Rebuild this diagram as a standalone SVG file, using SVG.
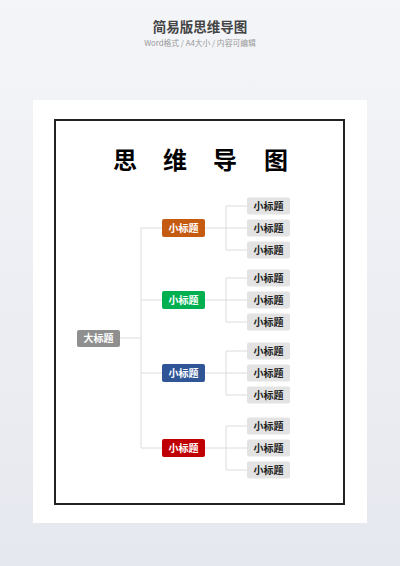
<svg xmlns="http://www.w3.org/2000/svg" width="400" height="566" viewBox="0 0 400 566">
<defs>
<linearGradient id="bg" x1="0" y1="0" x2="0" y2="1">
<stop offset="0" stop-color="#f4f5f8"/>
<stop offset="1" stop-color="#e6e8ef"/>
</linearGradient>
<style>
text{font-family:"Noto Sans CJK SC","Noto Sans",sans-serif;text-anchor:middle}
.conn line{stroke:#dcdcdc;stroke-width:1;fill:none}
.leaf rect{fill:#e3e3e3}
.leaf text{fill:#222;font-size:10px;font-weight:bold}
.mid text{fill:#fff;font-size:10px;font-weight:bold}
</style>
</defs>
<rect width="400" height="566" fill="url(#bg)"/>
<text x="200" y="32" font-size="13.5" font-weight="bold" fill="#444">简易版思维导图</text>
<text x="200" y="45.5" font-size="7.8" fill="#999">Word格式 / A4大小 / 内容可编辑</text>
<rect x="33" y="100" width="334" height="423" fill="#fff"/>
<rect x="55" y="120" width="289" height="384" fill="none" stroke="#222" stroke-width="2"/>
<g id="title" font-size="24" font-weight="bold" fill="#000">
<text x="125" y="169">思</text>
<text x="175" y="169">维</text>
<text x="225" y="169">导</text>
<text x="276" y="169">图</text>
</g>
<g class="conn" id="connectors">
<line x1="120" y1="338" x2="141" y2="338"/>
<line x1="141" y1="228" x2="141" y2="448"/>
<line x1="141" y1="228" x2="162" y2="228"/>
<line x1="141" y1="300" x2="162" y2="300"/>
<line x1="141" y1="373" x2="162" y2="373"/>
<line x1="141" y1="448" x2="162" y2="448"/>
<line x1="205" y1="228" x2="247" y2="228"/>
<line x1="226" y1="206" x2="226" y2="250"/>
<line x1="226" y1="206" x2="247" y2="206"/>
<line x1="226" y1="250" x2="247" y2="250"/>
<line x1="205" y1="300" x2="247" y2="300"/>
<line x1="226" y1="278" x2="226" y2="322"/>
<line x1="226" y1="278" x2="247" y2="278"/>
<line x1="226" y1="322" x2="247" y2="322"/>
<line x1="205" y1="373" x2="247" y2="373"/>
<line x1="226" y1="351" x2="226" y2="395"/>
<line x1="226" y1="351" x2="247" y2="351"/>
<line x1="226" y1="395" x2="247" y2="395"/>
<line x1="205" y1="448" x2="247" y2="448"/>
<line x1="226" y1="426" x2="226" y2="470"/>
<line x1="226" y1="426" x2="247" y2="426"/>
<line x1="226" y1="470" x2="247" y2="470"/>
</g>
<g id="root" class="mid"><rect x="77" y="330" width="43" height="17" rx="2" fill="#8f8f8f"/><text x="98.5" y="342">大标题</text></g>
<g id="b1" class="mid"><rect x="162" y="219" width="43" height="18" rx="2" fill="#c55a11"/><text x="183.5" y="231.5">小标题</text></g>
<g id="b2" class="mid"><rect x="162" y="291" width="43" height="18" rx="2" fill="#00b050"/><text x="183.5" y="303.5">小标题</text></g>
<g id="b3" class="mid"><rect x="162" y="364" width="43" height="18" rx="2" fill="#2f5597"/><text x="183.5" y="376.5">小标题</text></g>
<g id="b4" class="mid"><rect x="162" y="439" width="43" height="18" rx="2" fill="#c00000"/><text x="183.5" y="451.5">小标题</text></g>
<g id="l11" class="leaf"><rect x="247" y="197.5" width="43" height="17" rx="2"/><text x="268.5" y="209.5">小标题</text></g>
<g id="l12" class="leaf"><rect x="247" y="219.5" width="43" height="17" rx="2"/><text x="268.5" y="231.5">小标题</text></g>
<g id="l13" class="leaf"><rect x="247" y="241.5" width="43" height="17" rx="2"/><text x="268.5" y="253.5">小标题</text></g>
<g id="l21" class="leaf"><rect x="247" y="269.5" width="43" height="17" rx="2"/><text x="268.5" y="281.5">小标题</text></g>
<g id="l22" class="leaf"><rect x="247" y="291.5" width="43" height="17" rx="2"/><text x="268.5" y="303.5">小标题</text></g>
<g id="l23" class="leaf"><rect x="247" y="313.5" width="43" height="17" rx="2"/><text x="268.5" y="325.5">小标题</text></g>
<g id="l31" class="leaf"><rect x="247" y="342.5" width="43" height="17" rx="2"/><text x="268.5" y="354.5">小标题</text></g>
<g id="l32" class="leaf"><rect x="247" y="364.5" width="43" height="17" rx="2"/><text x="268.5" y="376.5">小标题</text></g>
<g id="l33" class="leaf"><rect x="247" y="386.5" width="43" height="17" rx="2"/><text x="268.5" y="398.5">小标题</text></g>
<g id="l41" class="leaf"><rect x="247" y="417.5" width="43" height="17" rx="2"/><text x="268.5" y="429.5">小标题</text></g>
<g id="l42" class="leaf"><rect x="247" y="439.5" width="43" height="17" rx="2"/><text x="268.5" y="451.5">小标题</text></g>
<g id="l43" class="leaf"><rect x="247" y="461.5" width="43" height="17" rx="2"/><text x="268.5" y="473.5">小标题</text></g>
</svg>
